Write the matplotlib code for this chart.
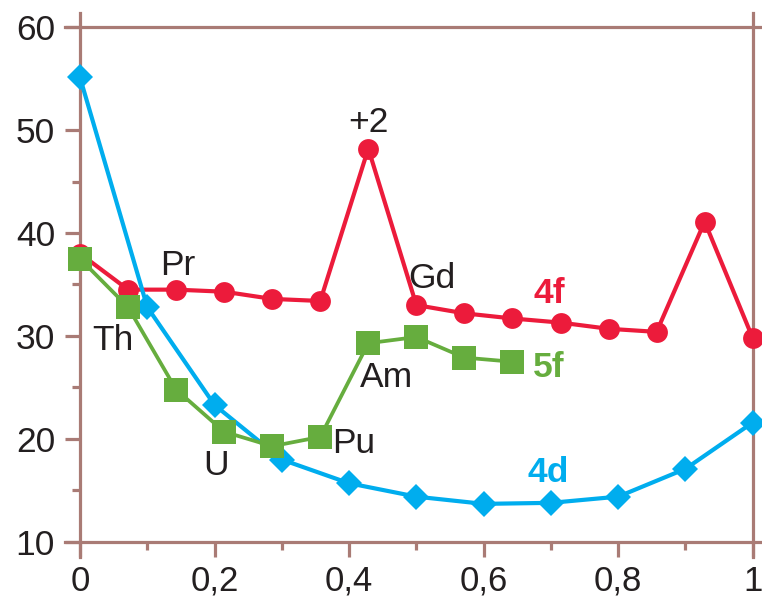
import numpy as np
import matplotlib
matplotlib.use("Agg")
import matplotlib.pyplot as plt
from matplotlib.ticker import MultipleLocator, FixedLocator

plt.rcParams['font.family'] = ['Liberation Sans', 'DejaVu Sans']

# 4f series (lanthanides), 15 evenly spaced points from 0 to 1
x_4f = np.arange(15) / 14
y_4f = [38.0, 34.5, 34.5, 34.3, 33.6, 33.4, 48.2, 33.0, 32.2, 31.7, 31.3, 30.7, 30.4, 41.1, 29.8]

# 4d series, 11 points from 0 to 1
x_4d = np.arange(11) / 10
y_4d = [55.1, 32.8, 23.3, 18.0, 15.7, 14.4, 13.7, 13.8, 14.4, 17.1, 21.6]

# 5f series (actinides), first 10 of the 14-step grid
x_5f = np.arange(10) / 14
y_5f = [37.5, 32.8, 24.8, 20.7, 19.3, 20.2, 29.3, 29.9, 27.9, 27.5]

x_ticks = [0, 0.2, 0.4, 0.6, 0.8, 1.0]
x_ticklabels = ["0", "0,2", "0,4", "0,6", "0,8", "1"]
y_ticks = [10, 20, 30, 40, 50, 60]

RED = "#ec1b3b"
BLUE = "#00adee"
GREEN = "#66ad3e"
FRAME = "#a97b75"
TEXT = "#231f20"

fig = plt.figure(figsize=(7.62, 5.99), dpi=100)
ax = fig.add_axes([0.105, 0.0952, 0.8828, 0.8597])

ax.plot(x_4f, y_4f, color=RED, lw=3.0, marker='o', ms=15, mew=0, zorder=5, clip_on=False)
ax.plot(x_4d, y_4d, color=BLUE, lw=3.0, marker='D', ms=13.5, mew=0, zorder=6, clip_on=False)
ax.plot(x_5f, y_5f, color=GREEN, lw=2.7, marker='s', ms=17, mew=0, zorder=7, clip_on=False)

ax.set_xlim(0, 1)
ax.set_ylim(10, 60)

ax.xaxis.set_major_locator(FixedLocator(x_ticks))
ax.set_xticklabels(x_ticklabels)
ax.xaxis.set_minor_locator(MultipleLocator(0.1))
ax.yaxis.set_major_locator(FixedLocator(y_ticks))
ax.yaxis.set_minor_locator(MultipleLocator(5))

for side in ['left', 'right', 'top', 'bottom']:
    ax.spines[side].set_color(FRAME)
    ax.spines[side].set_linewidth(2.3)
    ax.spines[side].set_zorder(2)
ax.spines['left'].set_bounds(8.5, 61.4)
ax.spines['right'].set_bounds(8.5, 61.4)
ax.spines['top'].set_bounds(-0.022, 1.022)
ax.spines['bottom'].set_bounds(-0.022, 1.022)

ax.tick_params(which='major', direction='out', length=11, width=2.3, color=FRAME,
               labelsize=25.5, labelcolor=TEXT)
ax.tick_params(which='minor', direction='out', length=5.8, width=2.3, color=FRAME)
ax.tick_params(axis='x', which='major', pad=5.5, labelsize=25)
ax.tick_params(axis='y', which='major', pad=7)
ax.tick_params(axis='y', which='both', right=False)
ax.tick_params(axis='x', which='both', top=False)

# element annotations
ann_fs = 25.5
def label(x, y, s, color=TEXT, weight='normal'):
    ax.text(x, y, s, ha='center', va='baseline', fontsize=ann_fs, color=color,
            fontweight=weight, zorder=10)

label(0.429, 49.8, "+2")
label(0.146, 35.9, "Pr")
label(0.049, 28.6, "Th")
label(0.202, 16.5, "U")
label(0.407, 18.6, "Pu")
label(0.455, 25.0, "Am")
label(0.523, 34.7, "Gd")
label(0.697, 33.2, "4f", RED, 'bold')
label(0.696, 26.0, "5f", GREEN, 'bold')
label(0.696, 15.8, "4d", BLUE, 'bold')

fig.savefig("out.png", dpi=100)
